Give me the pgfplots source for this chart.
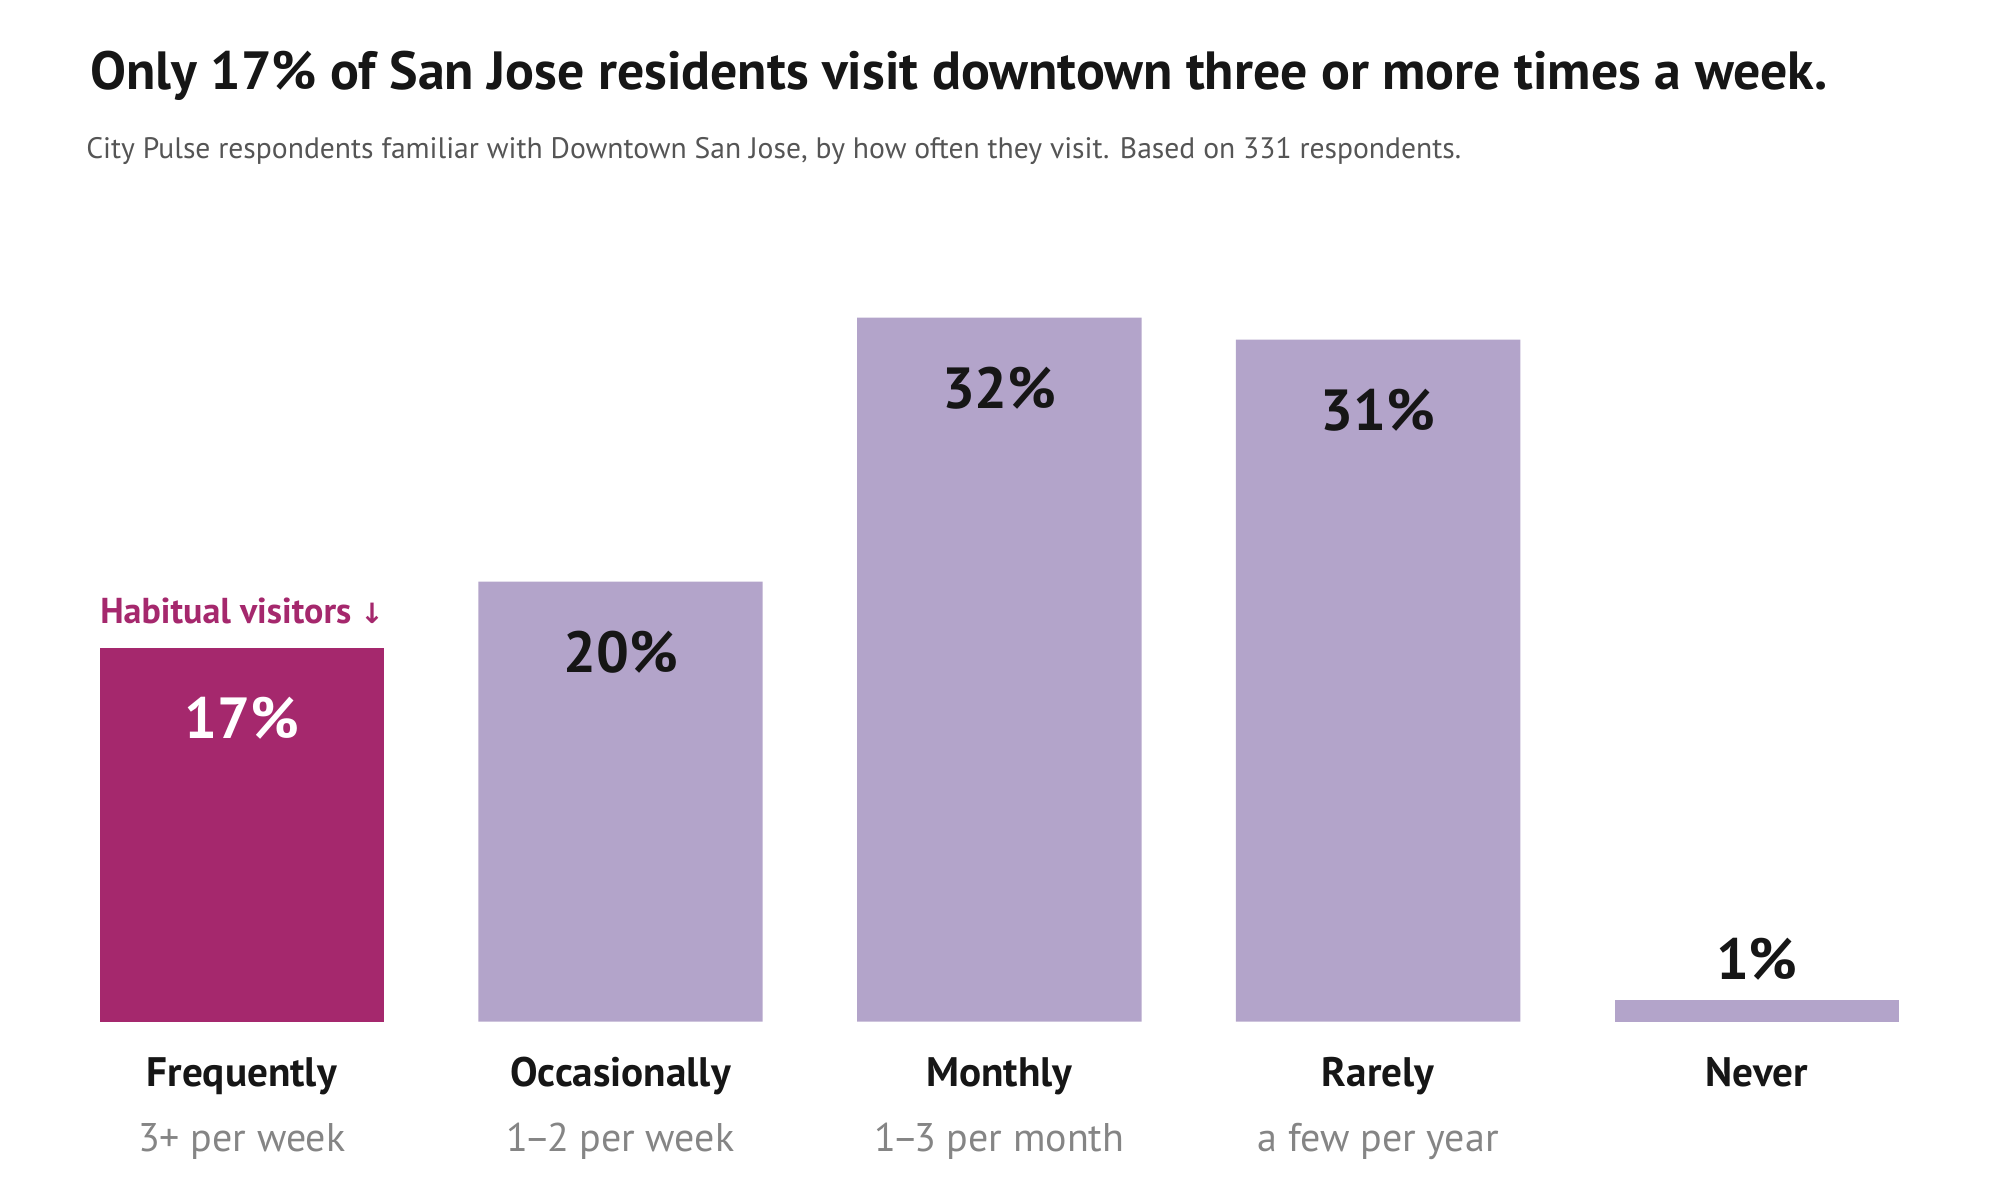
\documentclass[border=0pt]{standalone}
\usepackage{pgfplots}
\pgfplotsset{compat=1.18}
\usepackage{fontspec}
\setmainfont{PT Sans}
\newfontfamily\dejavu{DejaVu Sans}
\definecolor{magentabar}{HTML}{A5286D}
\definecolor{lavbar}{HTML}{B3A4CA}
\definecolor{darktxt}{HTML}{161616}
\definecolor{subgray}{HTML}{555555}
\definecolor{lblgray}{HTML}{858585}
\begin{document}
\begin{tikzpicture}
\path[use as bounding box] (-24.875pt,-44.575pt) rectangle (475.125pt,255.425pt);
\begin{axis}[
  at={(0,0)}, anchor=south west,
  scale only axis,
  width=449.9pt, height=192.5pt,
  xmin=-0.3755, xmax=4.3755,
  ymin=0, ymax=35,
  axis x line=bottom, axis y line=none,
  axis line style={draw=none},
  xtick={0,1,2,3,4},
  xticklabels={Frequently,Occasionally,Monthly,Rarely,Never},
  major tick length=0pt,
  xticklabel style={anchor=base, yshift=-16.25pt, font=\fontsize{10.3}{12}\selectfont\bfseries, text=darktxt, inner sep=0pt},
  ytick=\empty,
  clip=false,
  ybar,
  bar width=71.1pt,
  /pgf/number format/assume math mode=true,
  nodes near coords={\pgfmathprintnumber{\pgfplotspointmeta}\%},
]
\addplot[fill=magentabar, draw=none, bar shift=0pt,
  nodes near coords style={anchor=base, yshift=-22.6pt, text=white, font=\fontsize{14.5}{16}\selectfont\bfseries, inner sep=0pt}]
  coordinates {(0,17)};
\addplot[fill=lavbar, draw=none, bar shift=0pt,
  nodes near coords style={anchor=base, yshift=-22.6pt, text=darktxt, font=\fontsize{14.5}{16}\selectfont\bfseries, inner sep=0pt}]
  coordinates {(1,20) (2,32) (3,31)};
\addplot[fill=lavbar, draw=none, bar shift=0pt,
  nodes near coords style={anchor=base, yshift=5.1pt, text=darktxt, font=\fontsize{14.5}{16}\selectfont\bfseries, inner sep=0pt}]
  coordinates {(4,1)};
\node[anchor=base, text=lblgray, font=\fontsize{10}{12}\selectfont, inner sep=0pt] at (axis cs:0,0) [yshift=-32.5pt] {3+ per week};
\node[anchor=base, text=lblgray, font=\fontsize{10}{12}\selectfont, inner sep=0pt] at (axis cs:1,0) [yshift=-32.5pt] {1\kern-1pt–\kern-1pt2 per week};
\node[anchor=base, text=lblgray, font=\fontsize{10}{12}\selectfont, inner sep=0pt] at (axis cs:2,0) [yshift=-32.5pt] {1\kern-1pt–\kern-1pt3 per month};
\node[anchor=base, text=lblgray, font=\fontsize{10}{12}\selectfont, inner sep=0pt] at (axis cs:3,0) [yshift=-32.5pt] {a few per year};
\end{axis}
\node[anchor=base west, inner sep=0pt, text=darktxt, font=\fontsize{13.45}{15}\selectfont\bfseries] at (-2.55pt,233.1pt) {Only 17\% of San Jose residents visit downtown three or more times a week.};
\node[anchor=base west, inner sep=0pt, text=subgray, font=\fontsize{7.4}{8.5}\selectfont] at (-3.5pt,215.9pt) {City Pulse respondents familiar with Downtown San Jose, by how often they visit. Based on 331 respondents.};
\node[anchor=base west, inner sep=0pt, text=magentabar, font=\fontsize{9}{11}\selectfont\bfseries] at (0pt,99.6pt) {Habitual visitors {\dejavu\fontsize{7}{8}\selectfont ↓}};
\end{tikzpicture}
\end{document}
